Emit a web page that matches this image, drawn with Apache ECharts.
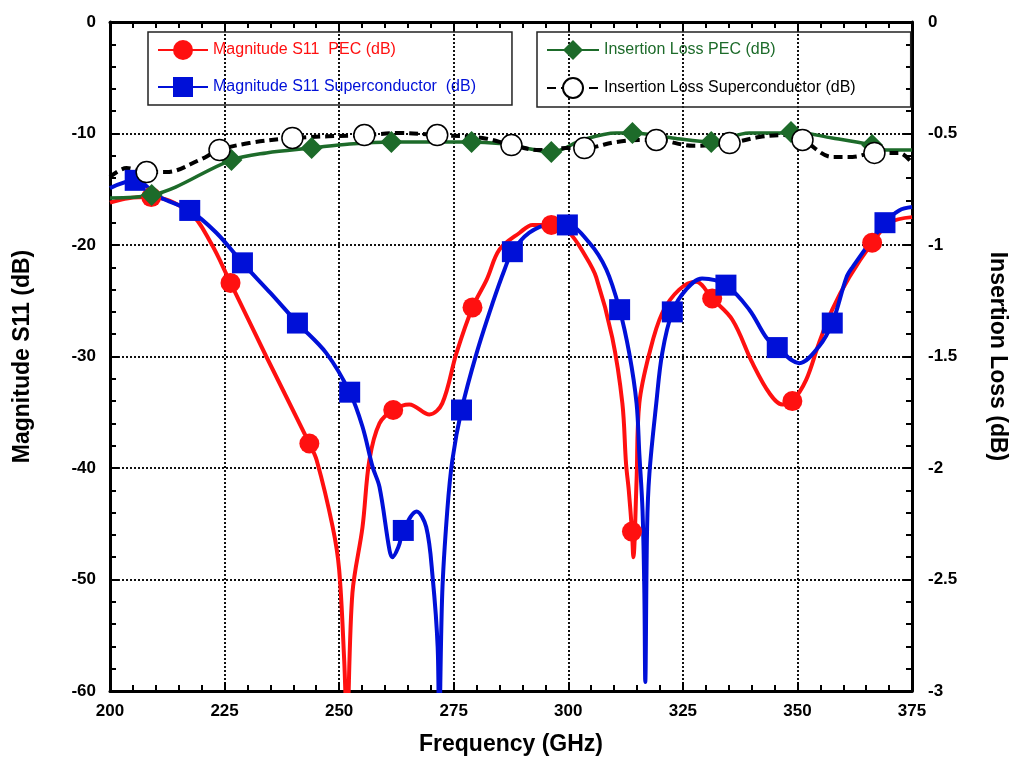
<!DOCTYPE html>
<html>
<head>
<meta charset="utf-8">
<script src="https://cdn.jsdelivr.net/npm/echarts@6/dist/echarts.min.js"></script>
<style>
  html, body { margin: 0; padding: 0; background: #fff; }
  #chart { width: 1013px; height: 761px; }
</style>
</head>
<body>
<div id="chart"></div>
<script>
// S11 / insertion loss vs frequency, PEC vs superconductor.
// Curves are traced points; *Marks are the points that carry a symbol.

const freqTicks = [200, 225, 250, 275, 300, 325, 350, 375];

// Magnitude S11 PEC (dB) - left axis
const pecS11 = [
  [200, -16.2], [204, -15.8], [217.4, -17.1], [222, -19.8], [234.1, -30.0],
  [245.1, -39.3], [248.6, -45.3], [250.0, -49.1], [251.1, -57.2], [251.7, -63],
  [252.9, -51.2], [255.1, -45.3], [256.6, -39.3], [258.8, -36.0], [265.3, -34.3],
  [269.7, -35.2], [272.5, -34.2], [275.6, -29.7], [282.2, -23.1], [285.0, -20.4],
  [289.4, -18.9], [292.2, -18.2], [300.0, -18.8], [303.9, -21.1], [306.1, -22.9],
  [309.6, -28.3], [311.8, -34.2], [312.6, -39.6], [313.2, -42.0], [314.2, -48.0],
  [314.9, -41.1], [315.5, -34.2], [317.7, -29.7], [320.5, -26.1], [324.2, -24.0],
  [327.9, -23.3], [335.8, -26.7], [340.2, -30.6], [343.9, -33.3], [346.7, -34.3],
  [351.9, -32.1], [354.7, -28.8], [357.6, -25.8], [361.3, -22.9], [370.1, -18.0],
  [375, -17.5]
];
const pecS11Marks = [
  [209.0, -15.7], [226.3, -23.4], [243.5, -37.8], [261.8, -34.8], [279.1, -25.6],
  [296.3, -18.2], [313.9, -45.7], [331.4, -24.8], [348.9, -34.0], [366.3, -19.8]
];

// Magnitude S11 Superconductor (dB) - left axis
const supS11 = [
  [200, -14.9], [210.8, -15.7], [223.2, -18.9], [235.0, -24.3], [247.2, -29.7],
  [255.1, -36.3], [257.3, -39.9], [258.8, -41.7], [261.0, -47.4], [261.6, -48.0],
  [263.0, -47.0], [266.9, -43.9], [269.0, -45.3], [270.4, -49.8], [271.5, -56.1],
  [271.8, -64], [272.5, -51.2], [273.6, -43.8], [274.7, -39.3], [280.0, -29.7],
  [283.5, -25.2], [286.1, -22.2], [291.5, -18.9], [295.9, -18.2], [304.6, -19.8],
  [308.3, -22.2], [313.3, -29.7], [314.9, -34.2], [315.5, -38.7], [316.2, -43.8],
  [316.6, -51.2], [316.8, -59.2], [317.2, -45.3], [317.7, -40.5], [319.2, -34.2],
  [320.5, -29.7], [325.7, -24.0], [329.2, -23.0], [339.5, -25.8], [343.2, -28.3],
  [350.4, -30.6], [354.7, -29.1], [360.7, -22.9], [362.0, -22.0], [372.2, -16.9],
  [375, -16.6]
];
const supS11Marks = [
  [205.5, -14.2], [217.4, -16.9], [228.9, -21.6], [240.9, -27.0], [252.3, -33.2],
  [264.0, -45.6], [276.7, -34.8], [287.8, -20.6], [299.8, -18.2], [311.2, -25.8],
  [322.7, -26.0], [334.4, -23.6], [345.6, -29.2], [357.6, -27.0], [369.1, -18.0]
];

// Insertion Loss PEC (dB) - right axis
const pecIL = [
  [200, -0.789], [234.1, -0.587], [252.3, -0.547], [285.0, -0.545], [289.4, -0.56],
  [303.1, -0.529], [310.5, -0.498], [322.7, -0.520], [339.5, -0.498], [346.7, -0.498],
  [357.6, -0.52], [369.3, -0.574], [375, -0.574]
];
const pecILMarks = [
  [209.1, -0.776], [226.5, -0.619], [244.0, -0.565], [261.4, -0.538], [278.9, -0.538],
  [296.3, -0.583], [314.0, -0.498], [331.2, -0.538], [348.6, -0.493], [366.3, -0.552]
];

// Insertion Loss Superconductor (dB) - right axis
const supIL = [
  [200, -0.695], [203.6, -0.655], [212.3, -0.673], [219.5, -0.619], [230.4, -0.543],
  [263.1, -0.498], [281.3, -0.520], [293.7, -0.574], [299.5, -0.565], [310.5, -0.538],
  [315.5, -0.529], [327.2, -0.555], [341.7, -0.516], [346.7, -0.507], [357.6, -0.605],
  [362.0, -0.605], [372.2, -0.587], [375, -0.632]
];
const supILMarks = [
  [208.0, -0.673], [223.9, -0.574], [239.8, -0.520], [255.5, -0.507], [271.4, -0.507],
  [287.6, -0.552], [303.5, -0.565], [319.2, -0.529], [335.2, -0.543], [351.1, -0.529],
  [366.8, -0.587]
];

const FONT = "'Liberation Sans', Arial, sans-serif";
const RED = "#ff1010";
const BLUE = "#0010d8";
const GREEN = "#1d6b2a";

// merge curve + marker points, only marker points get a symbol
function buildData(curve, marks) {
  const pts = curve.map((p) => ({ value: p, symbol: "none" }))
    .concat(marks.map((p) => ({ value: p })));
  pts.sort((a, b) => a.value[0] - b.value[0]);
  return pts;
}

const chart = echarts.init(document.getElementById("chart"));

const tickLabel = { color: "#000", fontFamily: FONT, fontWeight: "bold", fontSize: 17 };
const nameStyle = { color: "#000", fontFamily: FONT, fontWeight: "bold", fontSize: 23 };
const boxLine = { show: true, onZero: false, lineStyle: { color: "#000", width: 3 } };
const majorTick = { show: true, inside: true, length: 9, lineStyle: { color: "#000", width: 2 } };
const minorTick = { show: true, splitNumber: 5, length: 6, lineStyle: { color: "#000", width: 2 } };
const gridLine = { show: true, lineStyle: { color: "#111", width: 2, type: [2, 2] } };
const legendText = { fontFamily: FONT, fontSize: 16 };

chart.setOption({
  backgroundColor: "#fff",
  animation: false,
  grid: { left: 110, right: 101, top: 22, bottom: 70, outerBoundsMode: "none" },
  legend: [
    {
      left: 148, top: 32, orient: "vertical", selectedMode: false,
      padding: [8, 36, 8, 9], itemGap: 17,
      itemWidth: 50, itemHeight: 25,
      borderColor: "#222", borderWidth: 1.5,
      textStyle: legendText,
      data: [
        { name: "Magnitude S11  PEC (dB)", textStyle: { color: RED } },
        { name: "Magnitude S11 Superconductor  (dB)", textStyle: { color: BLUE } },
      ],
    },
    {
      left: 537, top: 32, orient: "vertical", selectedMode: false,
      padding: [8, 55, 8, 9], itemGap: 17,
      itemWidth: 52, itemHeight: 25,
      borderColor: "#222", borderWidth: 1.5,
      textStyle: legendText,
      data: [
        { name: "Insertion Loss PEC (dB)", textStyle: { color: GREEN } },
        { name: "Insertion Loss Superconductor (dB)", textStyle: { color: "#000" } },
      ],
    },
  ],
  xAxis: [
    {
      type: "value", position: "bottom",
      min: freqTicks[0], max: freqTicks[freqTicks.length - 1], interval: 25,
      name: "Frequency (GHz)", nameLocation: "middle", nameGap: 42,
      nameTextStyle: nameStyle,
      axisLine: boxLine, axisTick: majorTick, minorTick: minorTick,
      axisLabel: { ...tickLabel, margin: 12 },
      splitLine: gridLine,
    },
    {
      type: "value", position: "top",
      min: freqTicks[0], max: freqTicks[freqTicks.length - 1], interval: 25,
      axisLine: boxLine, axisTick: majorTick, minorTick: minorTick,
      axisLabel: { show: false },
      splitLine: { show: false },
    },
  ],
  yAxis: [
    {
      type: "value", position: "left",
      min: -60, max: 0, interval: 10,
      name: "Magnitude S11 (dB)", nameLocation: "middle", nameGap: 76, nameRotate: 90,
      nameTextStyle: nameStyle,
      axisLine: boxLine, axisTick: majorTick, minorTick: minorTick,
      axisLabel: { ...tickLabel, margin: 14 },
      splitLine: gridLine,
    },
    {
      type: "value", position: "right",
      min: -3, max: 0, interval: 0.5,
      name: "Insertion Loss (dB)", nameLocation: "middle", nameGap: 74, nameRotate: -90,
      nameTextStyle: nameStyle,
      axisLine: boxLine, axisTick: majorTick, minorTick: minorTick,
      axisLabel: { ...tickLabel, margin: 16 },
      splitLine: { show: false },
    },
  ],
  series: [
    {
      name: "Magnitude S11  PEC (dB)", type: "line", yAxisIndex: 0,
      smooth: 0.35,
      symbol: "circle", symbolSize: 20, showAllSymbol: true,
      lineStyle: { color: RED, width: 4 },
      itemStyle: { color: RED },
      data: buildData(pecS11, pecS11Marks),
    },
    {
      name: "Magnitude S11 Superconductor  (dB)", type: "line", yAxisIndex: 0,
      smooth: 0.35,
      symbol: "rect", symbolSize: 21, showAllSymbol: true,
      lineStyle: { color: BLUE, width: 4 },
      itemStyle: { color: BLUE },
      data: buildData(supS11, supS11Marks),
    },
    {
      name: "Insertion Loss PEC (dB)", type: "line", yAxisIndex: 1,
      smooth: 0.35,
      symbol: "diamond", symbolSize: [22, 22], showAllSymbol: true,
      lineStyle: { color: GREEN, width: 3.5 },
      itemStyle: { color: GREEN },
      data: buildData(pecIL, pecILMarks),
    },
    {
      name: "Insertion Loss Superconductor (dB)", type: "line", yAxisIndex: 1,
      smooth: 0.35,
      symbol: "circle", symbolSize: 21, showAllSymbol: true,
      lineStyle: { color: "#000", width: 4, type: [9, 5] },
      itemStyle: { color: "#fff", borderColor: "#000", borderWidth: 1.5 },
      data: buildData(supIL, supILMarks),
    },
  ],
});

window.addEventListener("resize", () => chart.resize());
</script>
</body>
</html>
